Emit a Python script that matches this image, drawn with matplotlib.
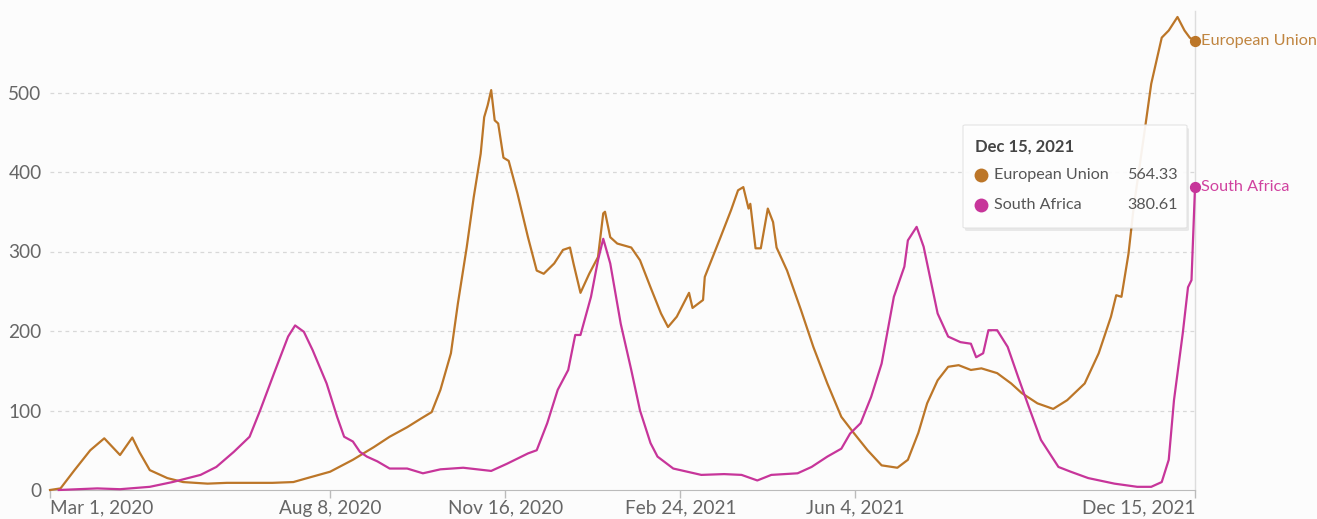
import matplotlib
matplotlib.use('Agg')
import matplotlib.pyplot as plt
import matplotlib.patches as mpatches
from matplotlib.lines import Line2D
import numpy as np

plt.rcParams['font.family'] = ['Lato', 'DejaVu Sans']

# ------------------------------------------------------------
# data (days since Mar 1, 2020)
# ------------------------------------------------------------
start = np.datetime64('2020-03-01')

eu_days = [0, 6, 14, 23, 31, 40, 47, 51, 57, 67, 76, 90, 101, 127, 139, 147, 160,
           173, 185, 194, 204, 212, 218, 223, 229, 233, 238, 242, 246, 248, 250,
           252, 254, 256, 259, 262, 267, 273, 278, 282, 288, 293, 297, 299, 303,
           308, 313, 316, 317, 320, 324, 332, 337, 343, 349, 353, 358, 365, 367,
           373, 374, 383, 389, 393, 396, 399, 400, 403, 406, 410, 413, 415, 421,
           429, 436, 444, 452, 459, 467, 475, 484, 490, 496, 501, 507, 513, 519,
           526, 532, 541, 549, 555, 564, 573, 581, 591, 599, 606, 609, 612, 616,
           619, 625, 629, 635, 639, 644, 648, 651, 654]
eu_vals = [0, 2, 25, 50, 65, 44, 66, 48, 25, 15, 10, 8, 9, 9, 10, 15, 23,
           38, 54, 67, 79, 90, 98, 126, 172, 235, 305, 368, 423, 469, 484,
           503, 465, 461, 418, 414, 373, 318, 276, 272, 285, 302, 305, 285, 248,
           272, 293, 348, 350, 318, 310, 305, 289, 255, 222, 205, 218, 248, 229,
           239, 268, 318, 352, 377, 381, 354, 360, 304, 304, 354, 337, 305, 276,
           226, 180, 134, 92, 72, 50, 31, 28, 38, 72, 109, 138, 155, 157,
           151, 153, 147, 134, 122, 109, 102, 113, 134, 172, 218, 245, 243, 297,
           356, 448, 511, 569, 578, 595, 578, 569, 564.33]

sa_days = [5, 27, 40, 57, 70, 86, 95, 105, 114, 120, 128, 136, 140, 145, 150, 158,
           164, 168, 173, 177, 181, 187, 194, 204, 213, 223, 236, 252, 261, 273,
           278, 284, 290, 296, 300, 303, 309, 313, 316, 320, 326, 332, 337, 343,
           347, 356, 372, 385, 395, 404, 412, 427, 435, 444, 452, 457, 463, 469,
           475, 482, 488, 490, 495, 499, 503, 507, 513, 520, 526, 529, 533, 536,
           541, 547, 553, 559, 566, 576, 583, 593, 608, 621, 629, 635, 639, 642,
           647, 650, 652, 654]
sa_vals = [0, 2, 1, 4, 10, 19, 29, 48, 67, 100, 147, 193, 207, 199, 176, 134,
           92, 67, 61, 48, 42, 36, 27, 27, 21, 26, 28, 24, 33, 46,
           50, 84, 126, 151, 195, 195, 243, 289, 316, 285, 209, 151, 100, 59,
           42, 27, 19, 20, 19, 12, 19, 21, 29, 42, 52, 71, 84, 117,
           159, 243, 281, 314, 331, 306, 264, 222, 193, 186, 184, 167, 172, 201,
           201, 180, 142, 105, 63, 29, 23, 15, 8, 4, 4, 10, 38, 113,
           197, 255, 264, 380.61]

tick_dates = ['2020-03-01', '2020-08-08', '2020-11-16', '2021-02-24', '2021-06-04', '2021-12-15']
tick_labels = ['Mar 1, 2020', 'Aug 8, 2020', 'Nov 16, 2020', 'Feb 24, 2021', 'Jun 4, 2021', 'Dec 15, 2021']
y_ticks = [0, 100, 200, 300, 400, 500]

series = ['European Union', 'South Africa']
last_vals = [eu_vals[-1], sa_vals[-1]]
hover_date = 'Dec 15, 2021'

eu_color = '#BC7628'
sa_color = '#C7359A'
eu_label_color = '#C08540'
sa_label_color = '#D0429F'

# ------------------------------------------------------------
W, H = 1317, 519
fig = plt.figure(figsize=(W / 100, H / 100), dpi=100)
fig.patch.set_facecolor('#fcfcfc')
ax = fig.add_axes([50 / W, 29 / H, 1145 / W, 477 / H])
ax.set_facecolor('#fcfcfc')

tick_pos = [(np.datetime64(d) - start).astype(int) for d in tick_dates]
end_day = tick_pos[-1]

ax.set_xlim(0, end_day)
ax.set_ylim(0, 600)

# grid
for y in y_ticks[1:]:
    ax.axhline(y, color='#d8d8d8', lw=0.9, ls=(0, (3, 3)), zorder=0)

# hover line
ax.plot([end_day, end_day], [0, 602], color='#dddddd', lw=1, clip_on=False, zorder=1)

ax.plot(eu_days, eu_vals, color=eu_color, lw=1.6, zorder=3, clip_on=False)
ax.plot(sa_days, sa_vals, color=sa_color, lw=1.6, zorder=3, clip_on=False)

# end markers + labels
ax.scatter([end_day], [last_vals[0]], s=50, color=eu_color, zorder=4, clip_on=False)
ax.scatter([end_day], [last_vals[1]], s=50, color=sa_color, zorder=4, clip_on=False)
ax.annotate(series[0], (end_day, last_vals[0]), xytext=(4, 0), textcoords='offset points',
            va='center', ha='left', fontsize=11.7, color=eu_label_color)
ax.annotate(series[1], (end_day, last_vals[1]), xytext=(4, 0), textcoords='offset points',
            va='center', ha='left', fontsize=11.7, color=sa_label_color)

for s in ['top', 'right', 'left']:
    ax.spines[s].set_visible(False)
ax.spines['bottom'].set_color('#bbbbbb')

ax.set_yticks(y_ticks)
ax.set_yticklabels([str(v) for v in y_ticks])
ax.tick_params(axis='y', length=0, pad=6, labelsize=13.7, labelcolor='#666666')
ax.set_xticks(tick_pos)
ax.set_xticklabels(tick_labels)
ax.tick_params(axis='x', length=6, width=1, color='#bbbbbb', pad=1,
               labelsize=13.7, labelcolor='#666666')
xl = ax.get_xticklabels()
xl[0].set_ha('left')
xl[-1].set_ha('right')

# tooltip
def fx(px):
    return px / W

def fy(py):
    return 1 - py / H

bx0, by0, bx1, by1 = 963, 125, 1187, 228
shadow = mpatches.FancyBboxPatch((fx(bx0 + 2), fy(by1 + 3)), fx(bx1 - bx0), (by1 - by0) / H,
                                 boxstyle='round,pad=0,rounding_size=0.002',
                                 transform=fig.transFigure, facecolor='#000000',
                                 alpha=0.08, edgecolor='none', zorder=5)
fig.patches.append(shadow)
box = mpatches.FancyBboxPatch((fx(bx0), fy(by1)), fx(bx1 - bx0), (by1 - by0) / H,
                              boxstyle='round,pad=0,rounding_size=0.002',
                              transform=fig.transFigure, facecolor='white',
                              alpha=0.92, edgecolor='#e2e2e2', lw=0.8, zorder=6)
fig.patches.append(box)

fig.text(fx(975), fy(147), hover_date, fontsize=12, fontweight='bold', color='#444444',
         va='center', ha='left', zorder=7)
row_y = [175, 205]
dot_colors = [eu_color, sa_color]
for name, val, yy, c in zip(series, last_vals, row_y, dot_colors):
    fig.add_artist(Line2D([fx(981)], [fy(yy)], transform=fig.transFigure, marker='o',
                          markersize=10, color=c, markeredgewidth=0, zorder=7))
    fig.text(fx(994), fy(yy), name, fontsize=11.6, color='#555555', va='center', ha='left', zorder=7)
    fig.text(fx(1178), fy(yy), f'{val:.2f}', fontsize=11.6, color='#555555', va='center',
             ha='right', zorder=7)

fig.savefig('out.png', dpi=100, facecolor=fig.get_facecolor())
print('done')
